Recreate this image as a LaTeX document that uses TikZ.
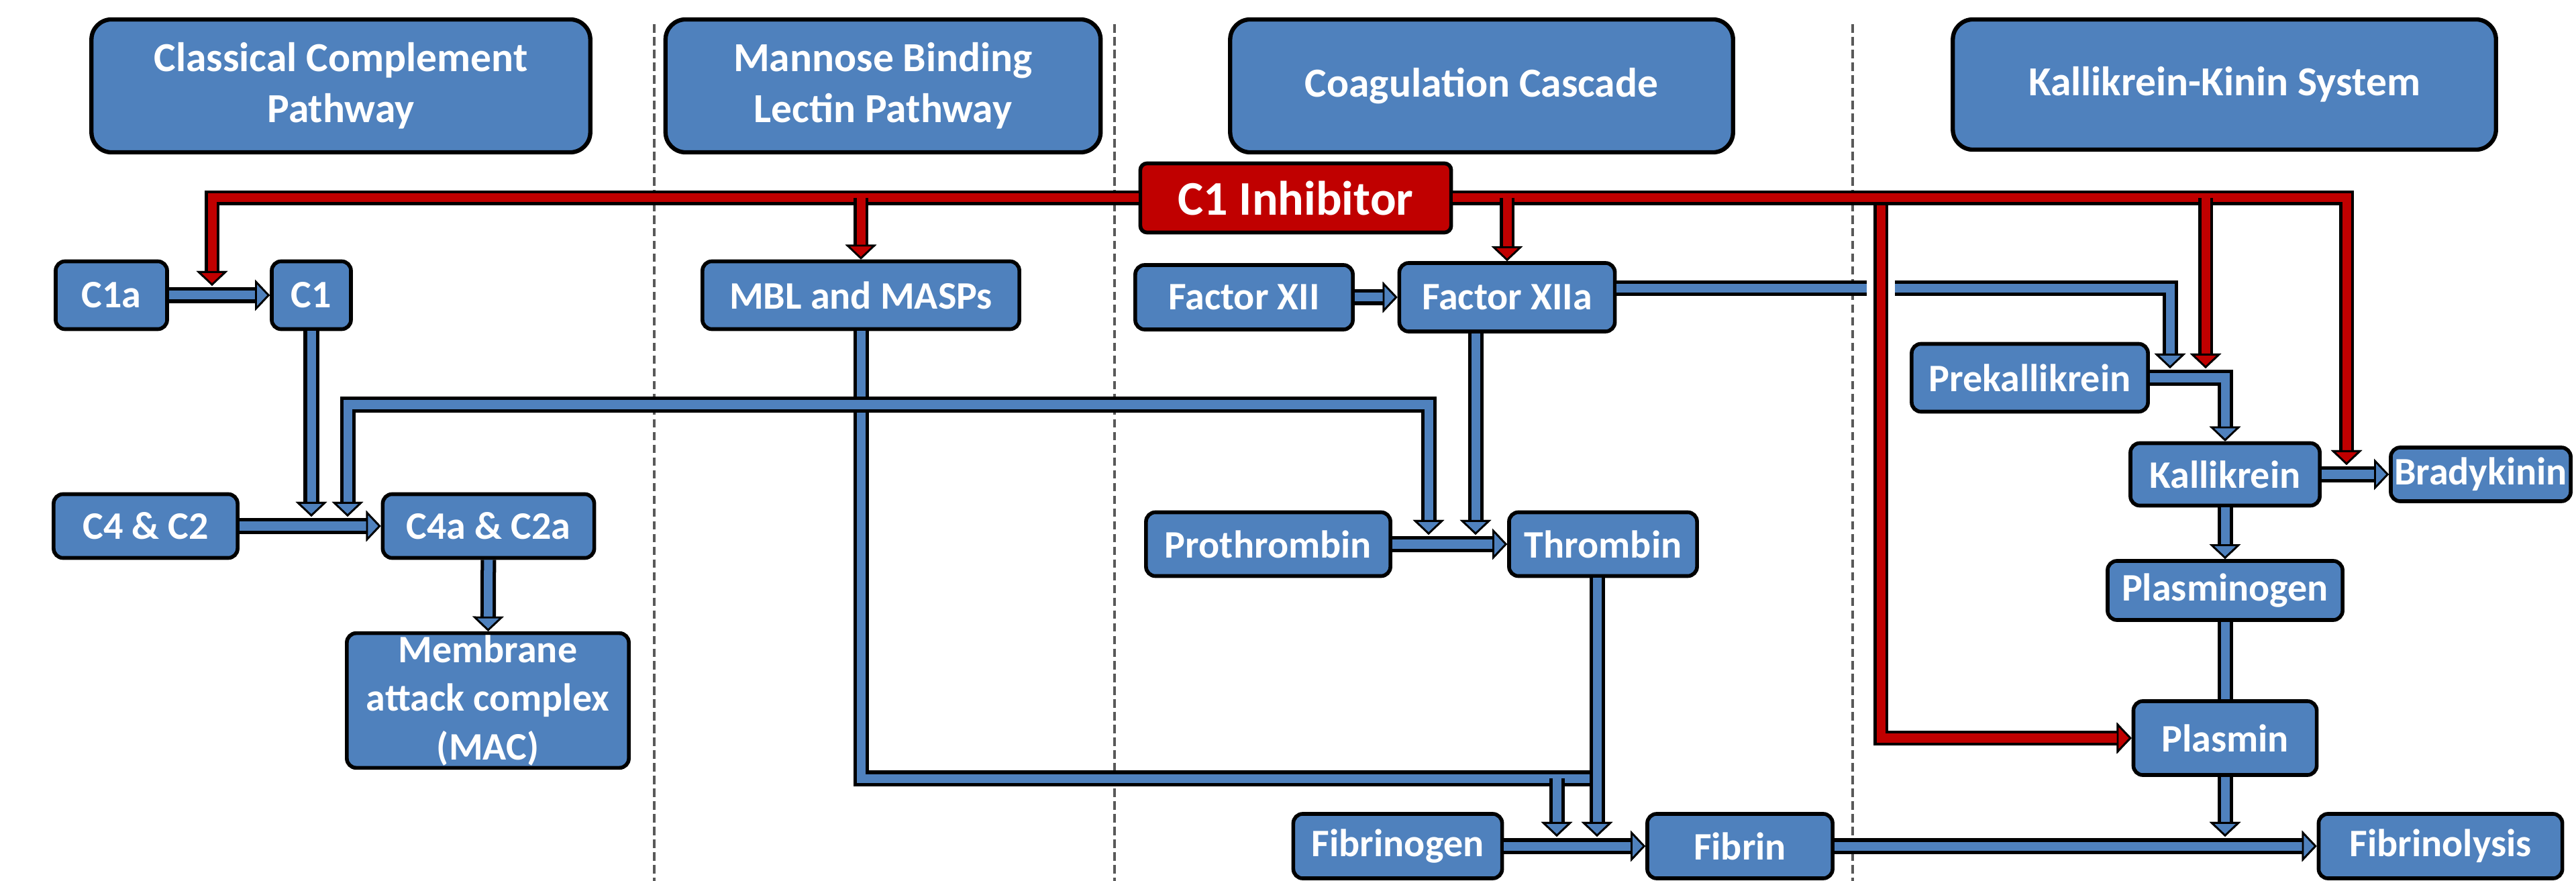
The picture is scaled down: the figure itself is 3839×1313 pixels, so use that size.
\documentclass[tikz,border=0pt]{standalone}
\usepackage{fontspec}
\setmainfont{Carlito}
\usetikzlibrary{arrows.meta}
\definecolor{pathblue}{RGB}{79,129,189}
\definecolor{inhred}{RGB}{192,0,0}
\tikzset{
  head/.style={draw=black, line width=1.8pt, fill=pathblue, rounded corners=0.3cm, text=white, align=center, font=\fontsize{17.5}{21.5}\selectfont\bfseries},
  box/.style={draw=black, line width=1.6pt, fill=pathblue, rounded corners=0.14cm, text=white, align=center, inner sep=1pt, font=\fontsize{16.5}{20.5}\selectfont\bfseries},
  inhbox/.style={box, fill=inhred, rounded corners=0.1cm, font=\fontsize{20.5}{23}\selectfont\bfseries},
  divider/.style={draw=black!65, line width=0.9pt, dash pattern=on 3.6pt off 1.8pt},
  flowline/.style={draw=pathblue, line width=0.13cm, preaction={draw=black, line width=0.23cm}},
  flow/.style={flowline, >={Triangle[length=0.22cm, width=0.46cm, line width=0.8pt, color=black, fill=pathblue]}, ->},
  inhline/.style={draw=inhred, line width=0.13cm, preaction={draw=black, line width=0.22cm}},
  inhib/.style={inhline, >={Triangle[length=0.22cm, width=0.46cm, line width=0.8pt, color=black, fill=inhred]}, ->},
}
\begin{document}
\begin{tikzpicture}[x=0.01cm, y=-0.01cm]
\useasboundingbox (0,0) rectangle (3839,1313);

% pathway dividers
\foreach \dx in {975,1661,2761}
  \draw[divider] (\dx,36) -- (\dx,1313);

% pathway headers
\node[head, minimum width=7.43cm, minimum height=1.98cm] (hcl) at (508,128) {Classical Complement\\Pathway};
\node[head, minimum width=6.48cm, minimum height=1.98cm] (hmbl) at (1316,128) {Mannose Binding\\Lectin Pathway};
\node[head, minimum width=7.49cm, minimum height=1.98cm] (hcoag) at (2208,128) {Coagulation Cascade};
\node[head, minimum width=8.09cm, minimum height=1.94cm] (hkks) at (3315,126) {Kallikrein-Kinin System};

% factors
\node[box, minimum width=1.66cm, minimum height=1.01cm] (c1a) at (166,440) {C1a};
\node[box, minimum width=1.18cm, minimum height=1.01cm] (c1) at (464,440) {C1};
\node[box, minimum width=4.72cm, minimum height=1.01cm] (mbl) at (1283,440) {MBL and MASPs};
\node[box, minimum width=3.24cm, minimum height=0.96cm] (f12) at (1854,443) {Factor XII};
\node[box, minimum width=3.21cm, minimum height=1.02cm] (f12a) at (2246,443) {Factor XIIa};
\node[box, minimum width=3.52cm, minimum height=1.01cm] (prek) at (3025,563) {Prekallikrein};
\node[box, minimum width=2.82cm, minimum height=0.93cm] (kal) at (3316,707) {Kallikrein};
\node[box, minimum width=2.68cm, minimum height=0.80cm] (brady) at (3697,707) {Bradykinin};
\node[box, minimum width=2.74cm, minimum height=0.95cm] (c4c2) at (217,784) {C4 \& C2};
\node[box, minimum width=3.15cm, minimum height=0.95cm] (c4ac2a) at (728,784) {C4a \& C2a};
\node[box, minimum width=4.20cm, minimum height=1.92cm] (mac) at (727,1044) {Membrane\\attack complex\\(MAC)};
\node[box, minimum width=3.64cm, minimum height=0.95cm] (prot) at (1890,811) {Prothrombin};
\node[box, minimum width=2.80cm, minimum height=0.95cm] (thr) at (2389,811) {Thrombin};
\node[box, minimum width=3.50cm, minimum height=0.88cm] (plg) at (3316,880) {Plasminogen};
\node[box, minimum width=2.73cm, minimum height=1.10cm] (plm) at (3316,1100) {Plasmin};
\node[box, minimum width=3.11cm, minimum height=0.96cm] (fgn) at (2083,1261) {Fibrinogen};
\node[box, minimum width=2.76cm, minimum height=0.96cm] (fib) at (2593,1261) {Fibrin};
\node[box, minimum width=3.63cm, minimum height=0.96cm] (fly) at (3637,1261) {Fibrinolysis};
\node[inhbox, minimum width=4.63cm, minimum height=1.03cm] (inh) at (1931,295) {C1 Inhibitor};

% where arrows land on other arrows
\coordinate (c1in) at (316,426);
\coordinate (c1dn) at (464,770);
\coordinate (c4hit) at (518,770);
\coordinate (lecl) at (518,603);
\coordinate (lecr) at (2129,603);
\coordinate (prhit) at (2129,797);
\coordinate (f12dn) at (2199,797);
\coordinate (mbljoin) at (2372,1160);
\coordinate (fgdrop) at (2320,1160);
\coordinate (fghit) at (2320,1247);
\coordinate (thrhit) at (2380,1247);
\coordinate (pkhit) at (3234,549);
\coordinate (pkred) at (3287,549);
\coordinate (kbhit) at (3497,693);
\coordinate (plmhit) at (3316,1247);
\coordinate (rv) at (2803,295);

% complement and lectin routes
\draw[flow] (c1a) -- (c1);
\draw[flow] (c1.south) -- (c1dn);
\draw[flow] (c4c2) -- (c4ac2a);
\draw[flow] (c4ac2a) -- (mac);
\draw[flowline] (mbl.south) |- (mbljoin);
\draw[flow, <->] (c4hit) -- (lecl) -- (lecr) -- (prhit);
\draw[flow] (fgdrop) -- (fghit);

% coagulation
\draw[flow] (f12) -- (f12a);
\draw[flow] (f12a.south -| f12dn) -- (f12dn);
\draw[flow] (prot) -- (thr);
\draw[flow] (thr.south -| thrhit) -- (thrhit);
\draw[flow] (fgn) -- (fib);
\draw[flow] (fib) -- (fly);
\draw[flow] ([yshift=0.13cm]f12a.east) -| (pkhit);

% kallikrein-kinin
\draw[flow] (prek.east) -| (kal.north);
\draw[flow] (kal) -- (brady);
\draw[flow] (kal) -- (plg);
\draw[flowline] (plg) -- (plm);
\draw[flow] (plm.south) -- (plmhit);

% C1 inhibitor
\draw[preaction={draw=white, line width=0.42cm}, inhib] (rv) |- (plm.west);
\draw[inhib] (inh.west) -| (c1in);
\draw[inhib] (inh.east) -| (kbhit);
\draw[inhib] (inh.west -| mbl.north) -- (mbl.north);
\draw[inhib] (inh.east -| f12a.north) -- (f12a.north);
\draw[inhib] (inh.east -| pkred) -- (pkred);
\end{tikzpicture}
\end{document}
